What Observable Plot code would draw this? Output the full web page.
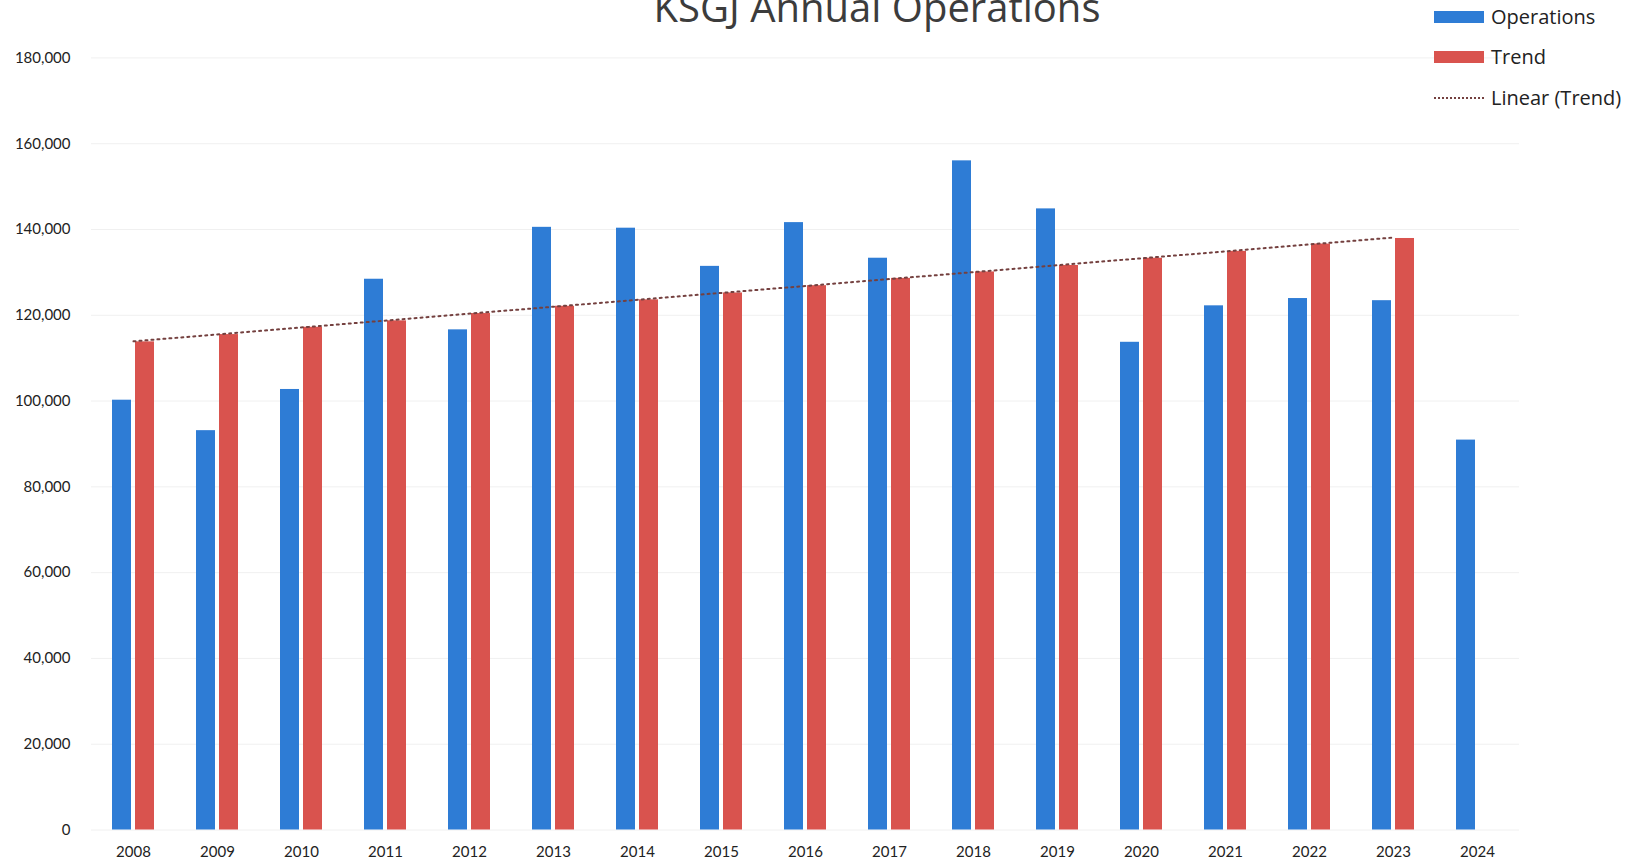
<!DOCTYPE html>
<html>
<head>
<meta charset="utf-8">
<script src="https://cdn.jsdelivr.net/npm/d3@7"></script>
<script src="https://cdn.jsdelivr.net/npm/@observablehq/plot@0.6"></script>
<style>
  html, body { margin: 0; padding: 0; background: #ffffff; }
  #wrap { position: relative; width: 1636px; height: 865px; overflow: hidden; background: #fff; }
  #wrap svg { position: absolute; left: 0; top: 0; }
  #title { position: absolute; top: -13px; left: 877px; transform: translateX(-50%); white-space: nowrap;
           font-family: "Open Sans", sans-serif; font-size: 40px; line-height: 40px; color: #3c3c3c; }
  .lg { position: absolute; left: 1434px; height: 20px; display: flex; align-items: center;
        font-family: "Open Sans", sans-serif; font-size: 20px; line-height: 20px; color: #222; white-space: nowrap; }
  .sw { width: 50px; height: 12px; margin-right: 7px; }
  .dot { width: 50px; height: 0; border-top: 2px dotted #74403f; margin-right: 7px; }
</style>
</head>
<body>
<div id="wrap">
  <div id="title">KSGJ Annual Operations</div>
</div>
<script>
// ---- data ----
const years = [2008, 2009, 2010, 2011, 2012, 2013, 2014, 2015, 2016, 2017, 2018, 2019, 2020, 2021, 2022, 2023, 2024];
const operations = [100200, 93100, 102700, 128400, 116600, 140500, 140300, 131400, 141600, 133300, 156000, 144800, 113700, 122200, 123900, 123400, 90900];
const trend = [113800, 115500, 117200, 118700, 120400, 122100, 123600, 125200, 126900, 128600, 130100, 131600, 133300, 134900, 136600, 137900];
const seriesNames = ["Operations", "Trend"];
const seriesColors = ["#2e7cd5", "#d9534e"];
const trendLineName = "Linear (Trend)";
const yTicks = [0, 20000, 40000, 60000, 80000, 100000, 120000, 140000, 160000, 180000];

// tidy table built from the arrays
const rows = [];
years.forEach((yr, i) => {
  rows.push({year: yr, series: seriesNames[0], value: operations[i]});
  if (i < trend.length) rows.push({year: yr, series: seriesNames[1], value: trend[i]});
});
const trendRows = trend.map((v, i) => ({year: years[i], value: v}));

const W = 1636, H = 865;
const mL = 90, mR = 116.7, mT = 57.4, mB = 35.5;
const wrap = document.getElementById("wrap");

const main = Plot.plot({
  width: W, height: H,
  marginLeft: mL, marginRight: mR, marginTop: mT, marginBottom: mB,
  style: {fontFamily: "Lato, sans-serif", fontSize: "15px", color: "#222", background: "transparent", overflow: "visible"},
  fx: {domain: years, padding: 0, label: null, axis: "bottom", tickSize: 0, tickPadding: 16, tickFormat: d => `${d}`},
  x: {domain: seriesNames, paddingInner: 0.19, paddingOuter: 0.885, axis: null},
  y: {domain: [0, 180000], ticks: yTicks, tickFormat: d3.format(","), label: null, tickSize: 0, tickPadding: 21},
  color: {domain: seriesNames, range: seriesColors},
  marks: [
    Plot.gridY(yTicks, {stroke: "#f0f0f0", strokeOpacity: 1}),
    Plot.barY(rows, {fx: "year", x: "series", y: "value", fill: "series"})
  ]
});
wrap.appendChild(main);

// overlay for the linear trendline, aligned to facet centres
const fx = main.scale("fx");
const centre = yr => fx.apply(yr) + fx.bandwidth / 2;
const overlay = Plot.plot({
  width: W, height: H,
  marginLeft: mL, marginRight: mR, marginTop: mT, marginBottom: mB,
  style: {background: "transparent", overflow: "visible"},
  x: {type: "linear", domain: [years[0], years[years.length - 1]], range: [centre(years[0]), centre(years[years.length - 1])], axis: null},
  y: {domain: [0, 180000], axis: null},
  marks: [
    Plot.linearRegressionY(trendRows, {x: "year", y: "value", stroke: "#74403f", strokeWidth: 2, strokeDasharray: "2 4", ci: 0})
  ]
});
wrap.appendChild(overlay);

// legend
const legendRows = [
  {label: seriesNames[0], kind: "sw", color: seriesColors[0], top: 7},
  {label: seriesNames[1], kind: "sw", color: seriesColors[1], top: 46.5},
  {label: trendLineName, kind: "dot", color: null, top: 87.5}
];
legendRows.forEach(r => {
  const d = document.createElement("div");
  d.className = "lg";
  d.style.top = r.top + "px";
  const s = document.createElement("div");
  s.className = r.kind;
  if (r.color) s.style.background = r.color;
  d.appendChild(s);
  const t = document.createElement("span");
  t.textContent = r.label;
  d.appendChild(t);
  wrap.appendChild(d);
});
</script>
</body>
</html>
